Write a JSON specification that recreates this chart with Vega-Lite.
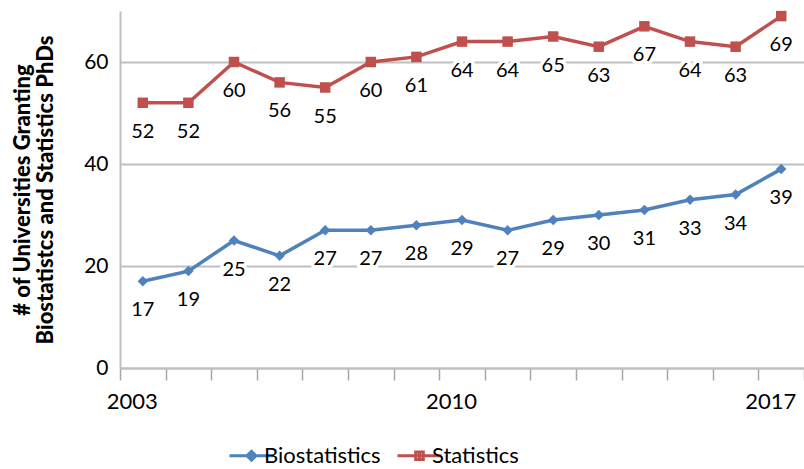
{
  "$schema": "https://vega.github.io/schema/vega-lite/v6.json",
  "width": 684,
  "height": 357,
  "autosize": "none",
  "padding": {"left": 120, "top": 11, "right": 0, "bottom": 101},
  "background": "white",
  "config": {
    "font": "Lato",
    "view": {"stroke": null}
  },
  "data": {
    "values": [
      {"year": 2003, "series": "Biostatistics", "value": 17},
      {"year": 2004, "series": "Biostatistics", "value": 19},
      {"year": 2005, "series": "Biostatistics", "value": 25},
      {"year": 2006, "series": "Biostatistics", "value": 22},
      {"year": 2007, "series": "Biostatistics", "value": 27},
      {"year": 2008, "series": "Biostatistics", "value": 27},
      {"year": 2009, "series": "Biostatistics", "value": 28},
      {"year": 2010, "series": "Biostatistics", "value": 29},
      {"year": 2011, "series": "Biostatistics", "value": 27},
      {"year": 2012, "series": "Biostatistics", "value": 29},
      {"year": 2013, "series": "Biostatistics", "value": 30},
      {"year": 2014, "series": "Biostatistics", "value": 31},
      {"year": 2015, "series": "Biostatistics", "value": 33},
      {"year": 2016, "series": "Biostatistics", "value": 34},
      {"year": 2017, "series": "Biostatistics", "value": 39},
      {"year": 2003, "series": "Statistics", "value": 52},
      {"year": 2004, "series": "Statistics", "value": 52},
      {"year": 2005, "series": "Statistics", "value": 60},
      {"year": 2006, "series": "Statistics", "value": 56},
      {"year": 2007, "series": "Statistics", "value": 55},
      {"year": 2008, "series": "Statistics", "value": 60},
      {"year": 2009, "series": "Statistics", "value": 61},
      {"year": 2010, "series": "Statistics", "value": 64},
      {"year": 2011, "series": "Statistics", "value": 64},
      {"year": 2012, "series": "Statistics", "value": 65},
      {"year": 2013, "series": "Statistics", "value": 63},
      {"year": 2014, "series": "Statistics", "value": 67},
      {"year": 2015, "series": "Statistics", "value": 64},
      {"year": 2016, "series": "Statistics", "value": 63},
      {"year": 2017, "series": "Statistics", "value": 69}
    ]
  },
  "encoding": {
    "x": {
      "field": "year",
      "type": "ordinal",
      "scale": {"type": "band", "paddingInner": 0, "paddingOuter": 0},
      "axis": {
        "title": null,
        "labelAngle": 0,
        "labelExpr": "datum.value == 2003 || datum.value == 2010 || datum.value == 2017 ? datum.label : ''",
        "labelFontSize": 22,
        "labelColor": "#000000",
        "labelPadding": 11,
        "labelOffset": -11,
        "tickBand": "extent",
        "tickSize": 12,
        "tickColor": "#a6a6a6",
        "tickWidth": 1.5,
        "domainColor": "#bfbfbf",
        "domainWidth": 2,
        "grid": false
      }
    },
    "y": {
      "field": "value",
      "type": "quantitative",
      "scale": {"domain": [0, 70], "nice": false},
      "axis": {
        "values": [0, 20, 40, 60],
        "title": ["# of Universities Granting", "Biostatistcs and Statistics PhDs"],
        "titleFontSize": 22,
        "titleFontWeight": 900,
        "titleColor": "#000000",
        "titlePadding": 26,
        "titleLineHeight": 23,
        "labelFontSize": 21,
        "labelColor": "#000000",
        "labelPadding": 12,
        "ticks": false,
        "domainColor": "#bfbfbf",
        "domainWidth": 2,
        "grid": true,
        "gridColor": "#bfbfbf",
        "gridWidth": 2
      }
    },
    "color": {
      "field": "series",
      "type": "nominal",
      "scale": {"domain": ["Biostatistics", "Statistics"], "range": ["#4f81bd", "#c0504d"]},
      "legend": null
    }
  },
  "resolve": {
    "scale": {"shape": "independent"},
    "legend": {"shape": "independent", "color": "independent"}
  },
  "layer": [
    {
      "mark": {"type": "line", "strokeWidth": 3.5}
    },
    {
      "mark": {"type": "point", "filled": true, "opacity": 1, "size": 110},
      "encoding": {
        "shape": {
          "field": "series",
          "type": "nominal",
          "scale": {"domain": ["Biostatistics", "Statistics"], "range": ["diamond", "square"]},
          "legend": null
        }
      }
    },
    {
      "mark": {"type": "text", "dy": 29, "fontSize": 20, "stroke": "white", "strokeWidth": 7, "strokeJoin": "round", "fill": "white"},
      "encoding": {
        "text": {"field": "value", "type": "quantitative"},
        "color": {"value": "white"}
      }
    },
    {
      "mark": {"type": "text", "dy": 29, "fontSize": 20, "fill": "#000000"},
      "encoding": {
        "text": {"field": "value", "type": "quantitative"},
        "color": {"value": "#000000"}
      }
    },
    {
      "mark": {"type": "point", "opacity": 0, "filled": false},
      "encoding": {
        "shape": {
          "field": "series",
          "type": "nominal",
          "scale": {
            "domain": ["Biostatistics", "Statistics"],
            "range": [
              "M-2.2,0L2.2,0M0,-0.45L0.45,0L0,0.45L-0.45,0ZM0,-0.45L0,0.45",
              "M-2.2,0L2.2,0M-0.38,-0.38L0.38,-0.38L0.38,0.38L-0.38,0.38ZM0,-0.38L0,0.38"
            ]
          },
          "legend": {
            "title": null,
            "orient": "none",
            "direction": "horizontal",
            "legendX": 120,
            "legendY": 433,
            "labelFontSize": 22,
            "labelColor": "#000000",
            "symbolSize": 400,
            "symbolStrokeWidth": 3,
            "symbolOpacity": 1,
            "columnPadding": 10,
            "labelOffset": 1
          }
        },
        "color": {
          "field": "series",
          "type": "nominal",
          "scale": {"domain": ["Biostatistics", "Statistics"], "range": ["#4f81bd", "#c0504d"]},
          "legend": {
            "title": null,
            "orient": "none",
            "direction": "horizontal",
            "legendX": 120,
            "legendY": 433,
            "labelFontSize": 22,
            "labelColor": "#000000",
            "symbolSize": 400,
            "symbolStrokeWidth": 3,
            "symbolOpacity": 1,
            "columnPadding": 10,
            "labelOffset": 1
          }
        }
      }
    }
  ]
}
